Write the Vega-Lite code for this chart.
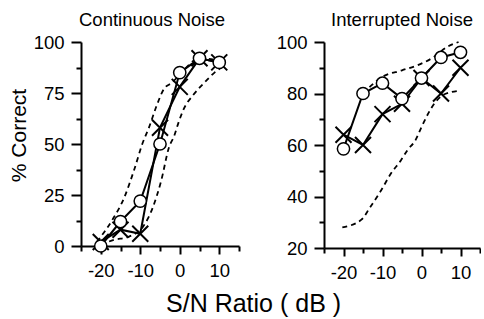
{
  "$schema": "https://vega.github.io/schema/vega-lite/v6.json",
  "padding": {"left": 8, "top": 10, "right": 0, "bottom": 0},
  "background": "white",
  "config": {
    "font": "Liberation Sans",
    "view": {"stroke": null},
    "axis": {
      "grid": false,
      "domainColor": "black",
      "domainWidth": 2,
      "tickColor": "black",
      "tickWidth": 2,
      "labelColor": "black",
      "labelFont": "Liberation Sans",
      "labelFontSize": 18.5,
      "titleColor": "black",
      "titleFont": "Liberation Sans",
      "titleFontWeight": "normal",
      "titleFontSize": 21
    }
  },
  "title": {"text": "S/N Ratio ( dB )", "orient": "bottom", "anchor": "middle", "fontSize": 25, "fontWeight": "normal", "font": "Liberation Sans", "color": "black", "offset": 10, "dx": 9},
  "spacing": 36,
  "datasets": {
    "contData": [
      {"series": "O", "x": -20, "y": 0}, {"series": "O", "x": -15, "y": 12}, {"series": "O", "x": -10, "y": 22}, {"series": "O", "x": -5, "y": 50}, {"series": "O", "x": 0, "y": 85}, {"series": "O", "x": 5, "y": 92}, {"series": "O", "x": 10, "y": 90},
      {"series": "X", "x": -20, "y": 2}, {"series": "X", "x": -15, "y": 8}, {"series": "X", "x": -10, "y": 6}, {"series": "X", "x": -5, "y": 58}, {"series": "X", "x": 0, "y": 78}, {"series": "X", "x": 5, "y": 92}, {"series": "X", "x": 10, "y": 90}
    ],
    "contBands": [
      {"band": "upper", "x": -21, "y": 2}, {"band": "upper", "x": -20, "y": 4.5}, {"band": "upper", "x": -17, "y": 13}, {"band": "upper", "x": -14, "y": 24}, {"band": "upper", "x": -11.6, "y": 37}, {"band": "upper", "x": -9.3, "y": 51}, {"band": "upper", "x": -7.8, "y": 58}, {"band": "upper", "x": -6, "y": 68}, {"band": "upper", "x": -4, "y": 77}, {"band": "upper", "x": -2, "y": 80}, {"band": "upper", "x": 0, "y": 84}, {"band": "upper", "x": 5, "y": 92}, {"band": "upper", "x": 10, "y": 91},
      {"band": "lower", "x": -20, "y": 0.5}, {"band": "lower", "x": -16.7, "y": 3}, {"band": "lower", "x": -13, "y": 4.5}, {"band": "lower", "x": -9.3, "y": 9.5}, {"band": "lower", "x": -6.8, "y": 19}, {"band": "lower", "x": -4.7, "y": 32}, {"band": "lower", "x": -2.7, "y": 48.5}, {"band": "lower", "x": -1.4, "y": 54}, {"band": "lower", "x": -0.4, "y": 60}, {"band": "lower", "x": 0.9, "y": 66.7}, {"band": "lower", "x": 3.4, "y": 74}, {"band": "lower", "x": 6.2, "y": 80}, {"band": "lower", "x": 8.8, "y": 85}, {"band": "lower", "x": 11, "y": 88}
    ],
    "intData": [
      {"series": "O", "x": -20, "y": 58.5}, {"series": "O", "x": -15, "y": 80}, {"series": "O", "x": -10, "y": 84}, {"series": "O", "x": -5, "y": 78}, {"series": "O", "x": 0, "y": 86}, {"series": "O", "x": 5, "y": 94}, {"series": "O", "x": 10, "y": 96},
      {"series": "X", "x": -20, "y": 64}, {"series": "X", "x": -15, "y": 60}, {"series": "X", "x": -10, "y": 72}, {"series": "X", "x": -5, "y": 76}, {"series": "X", "x": 0, "y": 86}, {"series": "X", "x": 5, "y": 80}, {"series": "X", "x": 10, "y": 90}
    ],
    "intBands": [
      {"band": "upper", "x": -15, "y": 80}, {"band": "upper", "x": -10, "y": 86.5}, {"band": "upper", "x": -5, "y": 89}, {"band": "upper", "x": -1, "y": 91}, {"band": "upper", "x": 3, "y": 94}, {"band": "upper", "x": 6.5, "y": 98}, {"band": "upper", "x": 9.5, "y": 100},
      {"band": "lower", "x": -20.3, "y": 28}, {"band": "lower", "x": -15.4, "y": 31}, {"band": "lower", "x": -13.3, "y": 35.5}, {"band": "lower", "x": -10.3, "y": 42.5}, {"band": "lower", "x": -7.8, "y": 49}, {"band": "lower", "x": -5.3, "y": 54}, {"band": "lower", "x": -3.6, "y": 58}, {"band": "lower", "x": -1.5, "y": 62}, {"band": "lower", "x": 0, "y": 67}, {"band": "lower", "x": 3.5, "y": 76.5}, {"band": "lower", "x": 5.5, "y": 79.4}, {"band": "lower", "x": 9.3, "y": 81}
    ]
  },
  "hconcat": [
    {
      "title": {"text": "Continuous Noise", "fontSize": 18.5, "fontWeight": "normal", "font": "Liberation Sans", "color": "black", "dx": -8},
      "width": 158,
      "height": 204,
      "encoding": {
        "x": {"field": "x", "type": "quantitative", "scale": {"domain": [-25, 15], "nice": false, "zero": false},
          "axis": {"title": null, "values": [-25, -20, -15, -10, -5, 0, 5, 10, 15], "labelExpr": "datum.value % 10 === 0 ? toString(datum.value) : ''", "tickSize": {"condition": {"test": "datum.value % 10 === 0", "value": 8}, "value": 5}, "labelPadding": 7, "labelFlush": false, "labelOverlap": false}},
        "y": {"field": "y", "type": "quantitative", "scale": {"domain": [0, 100], "nice": false},
          "axis": {"title": "% Correct", "titlePadding": 4, "titleY": 93, "values": [0, 12.5, 25, 37.5, 50, 62.5, 75, 87.5, 100], "labelExpr": "datum.value % 25 === 0 ? toString(datum.value) : ''", "tickSize": {"condition": {"test": "datum.value % 25 === 0", "value": 10}, "value": 5}, "labelPadding": 7, "labelFlush": false, "labelOverlap": false}}
      },
      "layer": [
        {"data": {"name": "contBands"}, "mark": {"type": "line", "color": "black", "strokeWidth": 1.8, "strokeDash": [5, 4], "interpolate": "monotone"}, "encoding": {"detail": {"field": "band"}}},
        {"data": {"name": "contData"}, "mark": {"type": "line", "color": "black", "strokeWidth": 2}, "encoding": {"detail": {"field": "series"}}},
        {"data": {"name": "contData"}, "transform": [{"filter": "datum.series === 'X'"}], "mark": {"type": "point", "shape": "M-1,-1L1,1M-1,1L1,-1", "size": 256, "stroke": "black", "strokeWidth": 2, "filled": false, "opacity": 1}},
        {"data": {"name": "contData"}, "transform": [{"filter": "datum.series === 'O'"}], "mark": {"type": "point", "shape": "circle", "size": 150, "stroke": "black", "fill": "white", "strokeWidth": 1.5, "filled": true, "opacity": 1, "strokeOpacity": 1, "fillOpacity": 1}}
      ]
    },
    {
      "title": {"text": "Interrupted Noise", "fontSize": 18.5, "fontWeight": "normal", "font": "Liberation Sans", "color": "black", "dx": 0},
      "width": 156,
      "height": 206,
      "encoding": {
        "x": {"field": "x", "type": "quantitative", "scale": {"domain": [-25, 15], "nice": false, "zero": false},
          "axis": {"title": null, "values": [-25, -20, -15, -10, -5, 0, 5, 10, 15], "labelExpr": "datum.value % 10 === 0 ? toString(datum.value) : ''", "tickSize": {"condition": {"test": "datum.value % 10 === 0", "value": 8}, "value": 5}, "labelPadding": 7, "labelFlush": false, "labelOverlap": false}},
        "y": {"field": "y", "type": "quantitative", "scale": {"domain": [20, 100], "nice": false, "zero": false},
          "axis": {"title": null, "values": [20, 30, 40, 50, 60, 70, 80, 90, 100], "labelExpr": "datum.value % 20 === 0 ? toString(datum.value) : ''", "tickSize": {"condition": {"test": "datum.value % 20 === 0", "value": 10}, "value": 5}, "labelPadding": 7, "labelFlush": false, "labelOverlap": false}}
      },
      "layer": [
        {"data": {"name": "intBands"}, "mark": {"type": "line", "color": "black", "strokeWidth": 1.8, "strokeDash": [5, 4], "interpolate": "monotone"}, "encoding": {"detail": {"field": "band"}}},
        {"data": {"name": "intData"}, "mark": {"type": "line", "color": "black", "strokeWidth": 2}, "encoding": {"detail": {"field": "series"}}},
        {"data": {"name": "intData"}, "transform": [{"filter": "datum.series === 'X'"}], "mark": {"type": "point", "shape": "M-1,-1L1,1M-1,1L1,-1", "size": 256, "stroke": "black", "strokeWidth": 2, "filled": false, "opacity": 1}},
        {"data": {"name": "intData"}, "transform": [{"filter": "datum.series === 'O'"}], "mark": {"type": "point", "shape": "circle", "size": 150, "stroke": "black", "fill": "white", "strokeWidth": 1.5, "filled": true, "opacity": 1, "strokeOpacity": 1, "fillOpacity": 1}}
      ]
    }
  ]
}
